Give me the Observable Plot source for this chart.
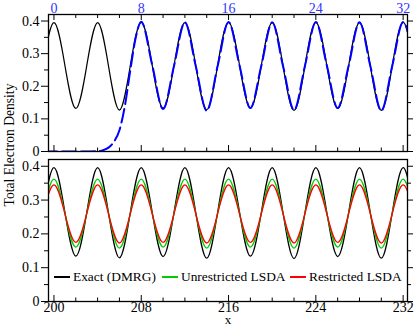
<!DOCTYPE html>
<html>
<head>
<meta charset="utf-8">
<script src="https://cdn.jsdelivr.net/npm/d3@7"></script>
<script src="https://cdn.jsdelivr.net/npm/@observablehq/plot@0.6"></script>
<style>
  body { margin: 0; background: white; }
  #wrap { position: relative; width: 415px; height: 326px; font-family: "Liberation Serif", "DejaVu Serif", serif; }
  #wrap svg { display: block; }
  #wrap svg text { font-family: "Liberation Serif", "DejaVu Serif", serif; }
  .ytitle { position: absolute; left: 10px; top: 145px; transform: translate(-50%, -50%) rotate(-90deg); font-size: 13.6px; line-height: 1; white-space: nowrap; color: black; }
  .xtitle { position: absolute; left: 228px; top: 319px; transform: translate(-50%, -50%); font-size: 13px; line-height: 1; color: black; }
  .leg { position: absolute; top: 269px; display: flex; align-items: center; font-size: 13.4px; white-space: nowrap; }
  .leg span.sw { display: inline-block; width: 16px; height: 0; border-top: 2px solid; margin-right: 3px; }
</style>
</head>
<body>
<div id="wrap"></div>
<script>
// ---------- Data ----------
// Top panel: sites 0..32 (exact DMRG, black) and blue dashed curve
const topSites  = [-1,0,1,2,3,4,5,6,7,8,9,10,11,12,13,14,15,16,17,18,19,20,21,22,23,24,25,26,27,28,29,30,31,32,33];
const topExact  = [0.265,0.395,0.265,0.132,0.262,0.395,0.262,0.127,0.264,0.396,0.265,0.133,0.263,0.395,0.262,0.128,0.264,0.396,0.266,0.134,0.263,0.395,0.261,0.126,0.262,0.396,0.265,0.132,0.262,0.395,0.261,0.126,0.262,0.396,0.265];
const blueX     = [-1,0,1,2,3,4,4.5,5,5.5,6,6.5,7,7.5,8,9,10,11,12,13,14,15,16,17,18,19,20,21,22,23,24,25,26,27,28,29,30,31,32,33];
const blueY     = [0,0,0,0,0,0.001,0.004,0.012,0.03,0.065,0.14,0.25,0.35,0.398,0.266,0.130,0.262,0.396,0.261,0.125,0.262,0.397,0.265,0.133,0.262,0.396,0.261,0.127,0.262,0.397,0.265,0.133,0.262,0.396,0.261,0.125,0.262,0.397,0.265];
// Bottom panel: sites 200..232
const botSites  = [199,200,201,202,203,204,205,206,207,208,209,210,211,212,213,214,215,216,217,218,219,220,221,222,223,224,225,226,227,228,229,230,231,232,233];
const botExact  = [0.265,0.396,0.265,0.134,0.262,0.396,0.262,0.129,0.264,0.396,0.265,0.133,0.263,0.396,0.262,0.128,0.264,0.396,0.266,0.134,0.263,0.396,0.261,0.127,0.262,0.396,0.265,0.133,0.262,0.396,0.261,0.128,0.262,0.396,0.265];
const botUnres  = [0.261,0.362,0.261,0.161,0.260,0.362,0.260,0.158,0.261,0.362,0.261,0.161,0.260,0.362,0.260,0.158,0.261,0.362,0.261,0.161,0.260,0.362,0.260,0.158,0.261,0.362,0.261,0.161,0.260,0.362,0.260,0.158,0.261,0.362,0.261];
const botRes    = [0.260,0.345,0.260,0.175,0.259,0.345,0.259,0.173,0.260,0.345,0.260,0.175,0.259,0.345,0.259,0.173,0.260,0.345,0.260,0.175,0.259,0.345,0.259,0.173,0.260,0.345,0.260,0.175,0.259,0.345,0.259,0.173,0.260,0.345,0.260];
// Ticks
const yMajor = [0, 0.1, 0.2, 0.3, 0.4];
const yMinor = [0.05, 0.15, 0.25, 0.35];
const topMajor = [0, 8, 16, 24, 32];
const topMinor = [2, 4, 6, 10, 12, 14, 18, 20, 22, 26, 28, 30];
const botMajor = [200, 208, 216, 224, 232];
const botMinor = [202, 204, 206, 210, 212, 214, 218, 220, 222, 226, 228, 230];
const legendLabels = ["Exact (DMRG)", "Unrestricted LSDA", "Restricted LSDA"];
const legendColors = ["black", "#00cc00", "red"];

const FONT = "'Liberation Serif', 'DejaVu Serif', serif";
const rows = (xs, ys) => xs.map((x, i) => ({x, y: ys[i]}));
const yfmt = d => d === 0 ? "0" : d.toFixed(1);
const plotStyle = {fontFamily: FONT, fontSize: "14px", color: "black", background: "white", overflow: "visible"};

function yAxes() {
  return [
    Plot.axisY(yMajor, {anchor: "left", tickSize: 7, tickPadding: 2, tickFormat: yfmt, fontSize: 14, fontFamily: FONT, label: null}),
    Plot.axisY(yMinor, {anchor: "left", tickSize: 4, tickFormat: () => "", label: null}),
    Plot.axisY(yMajor, {anchor: "right", tickSize: 5, tickFormat: () => "", label: null}),
    Plot.axisY(yMinor, {anchor: "right", tickSize: 3, tickFormat: () => "", label: null})
  ];
}

const topPlot = Plot.plot({
  width: 415, height: 152,
  marginLeft: 48, marginRight: 8, marginTop: 14, marginBottom: 1,
  style: plotStyle,
  x: {domain: [-0.5, 32.4]},
  y: {domain: [0, 0.42]},
  marks: [
    Plot.line(rows(topSites, topExact), {x: "x", y: "y", stroke: "black", strokeWidth: 1.2, curve: "natural", clip: true}),
    Plot.line(rows(blueX, blueY), {x: "x", y: "y", stroke: "#0000ff", strokeWidth: 2, strokeDasharray: "14,5", curve: "monotone-x", clip: true}),
    Plot.frame({stroke: "black", strokeWidth: 1.3}),
    ...yAxes(),
    Plot.axisX(topMajor, {anchor: "top", tickSize: 0, tickPadding: 2, fill: "#3333ff", fontSize: 14, fontFamily: FONT, label: null}),
    Plot.axisX(topMajor, {anchor: "top", tickSize: -5, tickFormat: () => "", label: null}),
    Plot.axisX(topMinor, {anchor: "top", tickSize: -3, tickFormat: () => "", label: null}),
    Plot.axisX(topMajor, {anchor: "bottom", tickSize: -6, tickFormat: () => "", label: null}),
    Plot.axisX(topMinor, {anchor: "bottom", tickSize: -3.5, tickFormat: () => "", label: null})
  ]
});

const bottomPlot = Plot.plot({
  width: 415, height: 174,
  marginLeft: 48, marginRight: 8, marginTop: 7, marginBottom: 25,
  style: plotStyle,
  x: {domain: [199.5, 232.4]},
  y: {domain: [0, 0.42]},
  marks: [
    Plot.line(rows(botSites, botExact), {x: "x", y: "y", stroke: legendColors[0], strokeWidth: 1.2, curve: "natural", clip: true}),
    Plot.line(rows(botSites, botUnres), {x: "x", y: "y", stroke: legendColors[1], strokeWidth: 1.3, curve: "natural", clip: true}),
    Plot.line(rows(botSites, botRes), {x: "x", y: "y", stroke: legendColors[2], strokeWidth: 1.3, curve: "natural", clip: true}),
    Plot.frame({stroke: "black", strokeWidth: 1.3}),
    ...yAxes(),
    Plot.axisX(botMajor, {anchor: "bottom", tickSize: 0, tickPadding: 1, fontSize: 14, fontFamily: FONT, label: null}),
    Plot.axisX(botMajor, {anchor: "bottom", tickSize: -6, tickFormat: () => "", label: null}),
    Plot.axisX(botMinor, {anchor: "bottom", tickSize: -3.5, tickFormat: () => "", label: null})
  ]
});

const wrap = document.getElementById("wrap");
wrap.appendChild(topPlot);
wrap.appendChild(bottomPlot);

const yt = document.createElement("div");
yt.className = "ytitle"; yt.textContent = "Total Electron Density";
wrap.appendChild(yt);
const xt = document.createElement("div");
xt.className = "xtitle"; xt.textContent = "x";
wrap.appendChild(xt);

const legLefts = [54, 162, 290];
legendLabels.forEach((lab, i) => {
  const d = document.createElement("div");
  d.className = "leg";
  d.style.left = legLefts[i] + "px";
  const sw = document.createElement("span");
  sw.className = "sw"; sw.style.borderColor = legendColors[i];
  d.appendChild(sw);
  d.appendChild(document.createTextNode(lab));
  wrap.appendChild(d);
});
</script>
</body>
</html>
